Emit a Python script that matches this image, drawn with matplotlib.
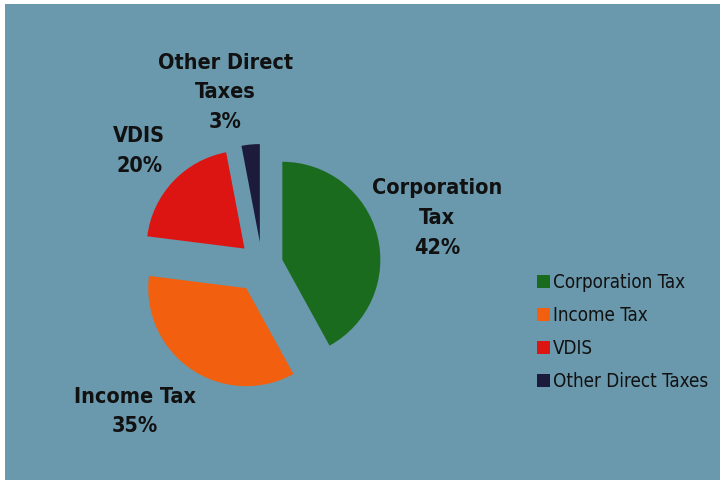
import numpy as np
import matplotlib.pyplot as plt
from matplotlib.patches import Rectangle

# direct tax collections, share of total
categories = ["Corporation Tax", "Income Tax", "VDIS", "Other Direct Taxes"]
shares = [42, 35, 20, 3]
pie_labels = ["Corporation\nTax\n42%", "Income Tax\n35%", "VDIS\n20%", "Other Direct\nTaxes\n3%"]
colors = ["#1b6b1e", "#f2600f", "#dc1512", "#1c1b3c"]

# how far each slice is pulled out (pixels)
explode = [21, 28, 24, 23]
# label placement around the pie: (angle in degrees, distance in radii)
label_polar = [(15, 1.85), (-131, 1.98), (137, 1.71), (102, 1.80)]

plt.rcParams['font.family'] = ['DejaVu Sans']
plt.rcParams['font.stretch'] = 'condensed'

fig = plt.figure(figsize=(7.23, 4.8), dpi=100, facecolor="white")
ax = fig.add_axes([0, 0, 1, 1])

ax.add_patch(Rectangle((5, 0), 715, 476, facecolor="#6a98ac", edgecolor="none", zorder=0))

cx, cy, r = 262, 215, 98
wedges, _ = ax.pie(shares, colors=colors, startangle=90, counterclock=False,
                   explode=explode, center=(cx, cy), radius=r,
                   wedgeprops=dict(linewidth=0), frame=True)
ax.set_xlim(0, 723)
ax.set_ylim(0, 480)
ax.set_aspect("equal")
ax.axis("off")

for txt, (ang, dist) in zip(pie_labels, label_polar):
    a = np.deg2rad(ang)
    ax.text(cx + dist * r * np.cos(a), cy + dist * r * np.sin(a), txt,
            ha="center", va="center", multialignment="center",
            fontsize=15.5, fontweight="bold", fontstretch="condensed",
            color="#111111", linespacing=1.6)

leg = fig.legend(wedges, categories, loc="center left",
                 bbox_to_anchor=(537 / 723, 1 - 332 / 480),
                 frameon=False, fontsize=13.5, handlelength=0.7, handleheight=0.7,
                 handletextpad=0.15, labelspacing=0.76, borderpad=0, borderaxespad=0)
for t in leg.get_texts():
    t.set_color("#111111")
    t.set_fontstretch("condensed")

fig.savefig("out.png", dpi=100, facecolor=fig.get_facecolor())
